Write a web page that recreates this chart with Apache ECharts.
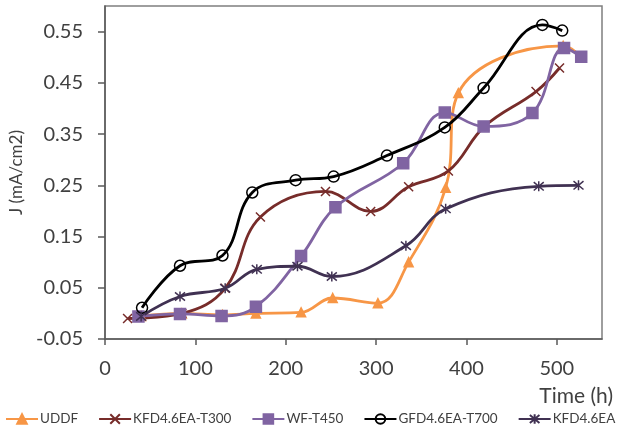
<!DOCTYPE html>
<html><head><meta charset="utf-8">
<script src="https://cdn.jsdelivr.net/npm/echarts@6/dist/echarts.min.js"></script>
<style>html,body{margin:0;padding:0;background:#fff}#c{width:625px;height:433px}</style>
</head><body><div id="c"></div>
<script>
const seriesNames = ['UDDF','KFD4.6EA-T300','WF-T450','GFD4.6EA-T700','KFD4.6EA'];
const uddfT = [40,85,130,167,217,252,302,336,377,391,507,527];
const uddfJ = [-0.005,0.0,-0.003,0.0,0.002,0.03,0.02,0.10,0.245,0.43,0.522,0.50];
const t300T = [25,85,133,172,244,294,336,380,420,477,503];
const t300J = [-0.01,0.0,0.049,0.188,0.238,0.199,0.247,0.278,0.365,0.433,0.479];
const wfT = [37,83,129,167,217,255,330,376,419,473,508,527];
const wfJ = [-0.006,-0.001,-0.005,0.013,0.112,0.207,0.293,0.392,0.365,0.391,0.518,0.501];
const gfdT = [41,83,130,163,211,253,312,376,419,484,506];
const gfdJ = [0.011,0.093,0.113,0.236,0.26,0.267,0.308,0.363,0.44,0.563,0.552];
const kfdT = [40,83,133,168,213,251,333,377,480,524];
const kfdJ = [-0.006,0.033,0.049,0.086,0.092,0.072,0.132,0.204,0.248,0.25];
const xTitle = 'Time (h)';
const yTitle = 'J (mA/cm2)';

const zip = (a,b) => a.map((v,i)=>[v,b[i]]);
const FONT = 'Lato';
const TXT = '#404040';
const cross = 'path://M0,0L10,10M0,10L10,0';
const star = 'path://M0,0L10,10M0,10L10,0M5,-1L5,11';

function mk(name, data, color, symbol, size, extra) {
  return Object.assign({
    name, type:'line', data, smooth:0.4,
    symbol, symbolSize:size,
    lineStyle:{color, width:2.8},
    itemStyle:{color, borderColor:color, borderWidth:1.5},
    z: 2
  }, extra||{});
}

const chart = echarts.init(document.getElementById('c'), null, {renderer:'canvas'});
chart.setOption({
  animation:false,
  backgroundColor:'#fff',
  textStyle:{fontFamily:FONT},
  title:{text:xTitle, right:12, top:386, padding:0,
    textStyle:{fontFamily:FONT, fontSize:21, fontWeight:'normal', color:TXT}},
  grid:{left:104, right:23, top:6, bottom:94, show:true, borderColor:'#7f7f7f', borderWidth:1.5},
  legend:{
    top:412, left:5, width:700, itemWidth:32, itemHeight:12, itemGap:20, padding:0,
    textStyle:{fontFamily:FONT, fontSize:13.5, color:TXT, padding:[0,0,0,-3]},
    data:seriesNames
  },
  xAxis:{
    type:'value', min:0, max:550, interval:100,
    axisLine:{onZero:false, lineStyle:{color:'#595959', width:1.5}},
    axisTick:{show:true, length:6, lineStyle:{color:'#595959', width:1.5}},
    splitLine:{show:false},
    axisLabel:{showMaxLabel:false, fontSize:20, color:TXT, fontFamily:FONT, margin:20}
  },
  yAxis:{
    type:'value', min:-0.05, max:0.6, interval:0.1,
    name:yTitle, nameLocation:'middle', nameGap:80,
    nameTextStyle:{fontFamily:FONT, fontSize:17, color:TXT},
    axisLine:{show:true, lineStyle:{color:'#595959', width:1.5}},
    axisTick:{show:true, length:7, lineStyle:{color:'#595959', width:1.5}},
    splitLine:{show:false},
    axisLabel:{showMaxLabel:false, fontSize:20, color:TXT, fontFamily:FONT, margin:22,
      formatter:v=>v.toFixed(2)}
  },
  series:[
    mk(seriesNames[0], zip(uddfT,uddfJ), '#F79646', 'triangle', 9),
    mk(seriesNames[1], zip(t300T,t300J), '#772C2A', cross, 9),
    mk(seriesNames[2], zip(wfT,wfJ), '#8064A2', 'rect', 11),
    mk(seriesNames[3], zip(gfdT,gfdJ), '#000000', 'circle', 11,
      {itemStyle:{color:'rgba(255,255,255,0)', borderColor:'#000', borderWidth:1.5}}),
    mk(seriesNames[4], zip(kfdT,kfdJ), '#403152', star, 10)
  ]
});
</script></body></html>
